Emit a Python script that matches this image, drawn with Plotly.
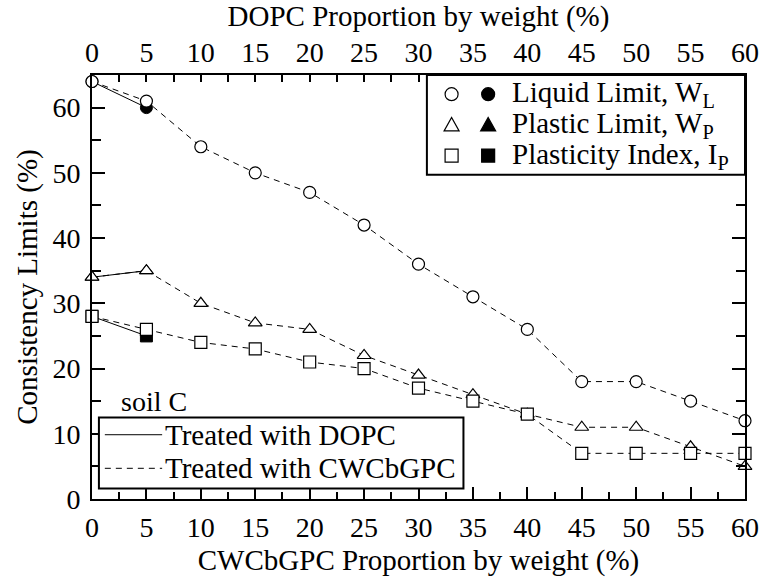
import plotly.graph_objects as go

# CWCbGPC treatment (bottom axis), 0-60 % by weight
cw_x = [0, 5, 10, 15, 20, 25, 30, 35, 40, 45, 50, 55, 60]
cw_wl = [64, 61, 54, 50, 47, 42, 36, 31, 26, 18, 18, 15, 12]
cw_wp = [34, 35, 30, 27, 26, 22, 19, 16, 13, 11, 11, 8, 5]
cw_ip = [28, 26, 24, 23, 21, 20, 17, 15, 13, 7, 7, 7, 7]

# DOPC treatment (top axis shares the same 0-60 scale)
dopc_x = [0, 5]
dopc_wl = [64, 60]
dopc_wp = [34, 35]
dopc_ip = [28, 25]

x_ticks = list(range(0, 61, 5))
y_ticks = list(range(0, 61, 10))

FONT = "Liberation Serif, Times New Roman, serif"
TXT = 29
MS = 12
DASH = "6px,5px"

fig = go.Figure()

series = [
    (dopc_wl, cw_wl, "circle"),
    (dopc_wp, cw_wp, "triangle-up"),
    (dopc_ip, cw_ip, "square"),
]

# DOPC: solid line, filled markers (drawn first so open markers sit on top)
for dvals, _, sym in series:
    fig.add_trace(go.Scatter(
        x=dopc_x, y=dvals, mode="lines+markers",
        line=dict(color="black", width=1),
        marker=dict(symbol=sym, size=MS, color="black", line=dict(color="black", width=1)),
        showlegend=False, cliponaxis=False))

# CWCbGPC: dashed line, open markers
for _, cvals, sym in series:
    fig.add_trace(go.Scatter(
        x=cw_x, y=cvals, mode="lines+markers",
        line=dict(color="black", width=1, dash=DASH),
        marker=dict(symbol=sym, size=MS, color="white", line=dict(color="black", width=1.2)),
        showlegend=False, cliponaxis=False))

# keeps the top DOPC axis attached to its own x-axis
fig.add_trace(go.Scatter(x=dopc_x, y=dopc_wl, xaxis="x2", mode="markers",
                         marker=dict(opacity=0), showlegend=False, hoverinfo="skip"))

# plot-area geometry in pixels (for the legend boxes drawn in paper units)
W, H = 771, 583
L, R, T, B = 92, 18, 68, 73
PW, PH = W - L - R, H - T - B


def px(xp):
    return (xp - L) / PW


def py(yp):
    return (H - B - yp) / PH


shapes = []
annotations = []

# marker legend (top right)
shapes.append(dict(type="rect", xref="paper", yref="paper",
                   x0=px(431), x1=px(753), y0=py(172), y1=py(68),
                   line=dict(color="black", width=2), fillcolor="white", layer="above"))
leg_rows = [
    ("circle", "Liquid Limit, W<sub>L</sub>", 88),
    ("triangle", "Plastic Limit, W<sub>P</sub>", 120),
    ("square", "Plasticity Index, I<sub>P</sub>", 152),
]
for kind, label, ry in leg_rows:
    for cx, fill in ((456, "white"), (493, "black")):
        base = dict(xref="paper", yref="paper", xsizemode="pixel", ysizemode="pixel",
                    xanchor=px(cx), yanchor=py(ry), fillcolor=fill,
                    line=dict(color="black", width=1.2), layer="above")
        if kind == "circle":
            shapes.append(dict(type="circle", x0=-6.5, x1=6.5, y0=-6.5, y1=6.5, **base))
        elif kind == "square":
            shapes.append(dict(type="rect", x0=-6.5, x1=6.5, y0=-6.5, y1=6.5, **base))
        else:
            shapes.append(dict(type="path", path="M -7.5,-6 L 7.5,-6 L 0,7.5 Z", **base))
    annotations.append(dict(xref="paper", yref="paper", x=px(515), y=py(ry),
                            xanchor="left", yanchor="middle", showarrow=False,
                            text=label, font=dict(family=FONT, size=TXT, color="black")))

# line-style legend (bottom left)
shapes.append(dict(type="rect", xref="paper", yref="paper",
                   x0=px(99), x1=px(468), y0=py(499), y1=py(425),
                   line=dict(color="black", width=2), fillcolor="white", layer="above"))
for ly, dash, label in ((443, "solid", "Treated with DOPC"), (478, DASH, "Treated with CWCbGPC")):
    shapes.append(dict(type="line", xref="paper", yref="paper",
                       x0=px(105), x1=px(163), y0=py(ly), y1=py(ly),
                       line=dict(color="black", width=1, dash=dash), layer="above"))
    annotations.append(dict(xref="paper", yref="paper", x=px(164), y=py(ly),
                            xanchor="left", yanchor="middle", showarrow=False,
                            text=label, font=dict(family=FONT, size=TXT, color="black")))

annotations.append(dict(xref="paper", yref="paper", x=px(119), y=py(408),
                        xanchor="left", yanchor="middle", showarrow=False,
                        text="soil C", font=dict(family=FONT, size=28, color="black")))

axis_common = dict(
    showgrid=False, zeroline=False, showline=True, linecolor="black", linewidth=2,
    ticks="inside", tickcolor="black", tickwidth=1.5,
    tickfont=dict(family=FONT, size=28, color="black"),
)

fig.update_layout(
    width=W, height=H,
    margin=dict(l=L, r=R, t=T, b=B, pad=0),
    paper_bgcolor="white", plot_bgcolor="white",
    font=dict(family=FONT, color="black"),
    xaxis=dict(
        range=[0, 60], tickvals=x_ticks, ticklen=12, mirror=False,
        minor=dict(dtick=2.5, tick0=0, ticks="inside", ticklen=7, tickcolor="black", tickwidth=1.5),
        title=dict(text="CWCbGPC Proportion by weight (%)", standoff=8,
                   font=dict(family=FONT, size=TXT, color="black")),
        ticklabelstandoff=2,
        **axis_common),
    xaxis2=dict(
        range=[0, 60], tickvals=x_ticks, overlaying="x", side="top", ticklen=7,
        minor=dict(dtick=2.5, tick0=0, ticks="inside", ticklen=7, tickcolor="black", tickwidth=1.5),
        title=dict(text="DOPC Proportion by weight (%)", standoff=4,
                   font=dict(family=FONT, size=TXT, color="black")),
        ticklabelstandoff=0,
        **axis_common),
    yaxis=dict(
        range=[0, 65], tickvals=y_ticks, ticklen=13, mirror="ticks",
        minor=dict(dtick=5, tick0=0, ticks="inside", ticklen=9, tickcolor="black", tickwidth=1.5),
        title=dict(text="Consistency Limits (%)", standoff=6,
                   font=dict(family=FONT, size=TXT, color="black")),
        ticklabelstandoff=4,
        **axis_common),
    shapes=shapes,
    annotations=annotations,
)

fig.write_html("out.html")
